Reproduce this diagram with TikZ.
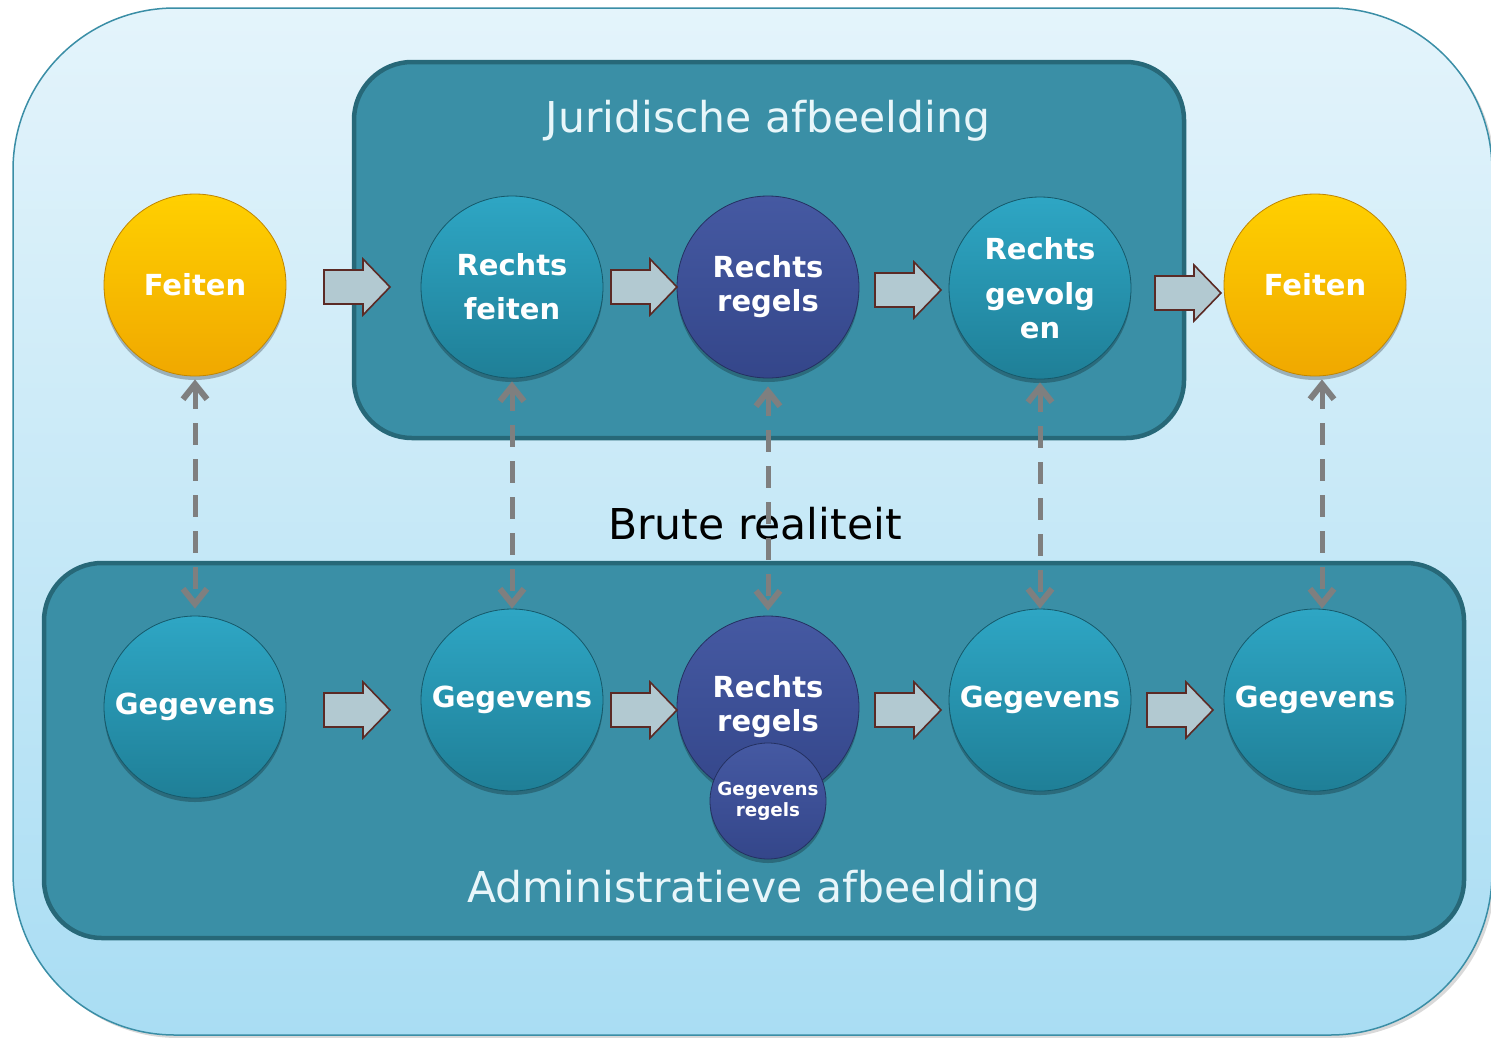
\documentclass[tikz,border=0pt]{standalone}
\usepackage{fontspec}
\setmainfont{DejaVu Sans}
\usetikzlibrary{shadows,arrows.meta,calc}
\definecolor{bgtop}{HTML}{E4F4FB}
\definecolor{bgbot}{HTML}{A9DDF3}
\definecolor{bgline}{HTML}{3A8EA6}
\definecolor{boxfill}{HTML}{3A8FA6}
\definecolor{boxline}{HTML}{276878}
\definecolor{tealtop}{HTML}{2EA6C4}
\definecolor{tealbot}{HTML}{1F7F97}
\definecolor{navytop}{HTML}{4559A2}
\definecolor{navybot}{HTML}{34468A}
\definecolor{yeltop}{HTML}{FFD000}
\definecolor{yelbot}{HTML}{F0A800}
\definecolor{arrfill}{HTML}{B2C9D1}
\definecolor{arrline}{HTML}{5B2A25}
\definecolor{dashgray}{HTML}{7F7F7F}
\definecolor{titletxt}{HTML}{E8F6FA}
\begin{document}
\begin{tikzpicture}[x=1pt,y=-1pt,
  ball/.style={circle, minimum size=182pt, inner sep=0pt, text=white,
    font=\bfseries\fontsize{29}{34}\selectfont, align=center,
    drop shadow={shadow xshift=0pt, shadow yshift=-4pt, opacity=0.25, fill=black}},
  tealball/.style={ball, top color=tealtop, bottom color=tealbot, draw=tealbot!70!black, line width=0.8pt},
  navyball/.style={ball, top color=navytop, bottom color=navybot, draw=navybot!70!black, line width=0.8pt},
  yelball/.style={ball, top color=yeltop, bottom color=yelbot, draw=yelbot!80!black, line width=0.8pt},
  areabox/.style={fill=boxfill, draw=boxline, line width=4.5pt, rounded corners=58pt},
  titletext/.style={font=\fontsize{42.5}{50}\selectfont},
  dasharr/.style={draw=dashgray, line width=5pt, dash pattern=on 22pt off 14pt,
    {Straight Barb[length=15pt,width=24pt,line width=6pt]}-{Straight Barb[length=15pt,width=24pt,line width=6pt]}},
  blockarr/.pic={\draw[fill=arrfill, draw=arrline, line width=1.6pt]
    (-33,-17) -- (6,-17) -- (6,-28) -- (33,0) -- (6,28) -- (6,17) -- (-33,17) -- cycle;}
]
\useasboundingbox (0,0) rectangle (1491,1037);
% background
\path[top color=bgtop, bottom color=bgbot, draw=bgline, line width=1.5pt, rounded corners=162pt,
  drop shadow={shadow xshift=3pt, shadow yshift=-3pt, opacity=0.3}]
  (13,8) rectangle (1492,1035);
% areas
\path[areabox] (354,62) rectangle (1184,438);
\path[areabox] (44,563) rectangle (1464,938);
% texts
\node[titletext, text=titletxt] (tj) at (768,121) {Juridische afbeelding};
\node[titletext, text=black] (tb) at (755,524) {Brute realiteit};
\node[titletext, text=titletxt] (ta) at (754,891) {Administratieve afbeelding};
% top circles
\node[yelball] (f1) at (195,285) {Feiten};
\node[tealball] (rf) at (512,287) {Rechts\\[10pt]feiten};
\node[navyball] (rr) at (768,287) {Rechts\\regels};
\node[tealball] (rg) at (1040,288) {Rechts\\[11pt]gevolg\\en};
\node[yelball] (f2) at (1315,285) {Feiten};
% bottom circles
\node[tealball] (g1) at (195,707) {Gegevens};
\node[tealball] (g2) at (512,700) {Gegevens};
\node[navyball] (br) at (768,707) {Rechts\\regels};
\node[navyball, minimum size=116pt, font=\bfseries\fontsize{18.3}{21}\selectfont] (gr) at (768,801) {Gegevens\\regels};
\node[tealball] (g3) at (1040,700) {Gegevens};
\node[tealball] (g4) at (1315,700) {Gegevens};
% block arrows
\pic at (357,287) {blockarr};
\pic at (644,287) {blockarr};
\pic at (908,290) {blockarr};
\pic at (1188,293) {blockarr};
\pic at (357,710) {blockarr};
\pic at (644,710) {blockarr};
\pic at (908,710) {blockarr};
\pic at (1180,710) {blockarr};
% dashed arrows
\draw[dasharr, shorten <=3pt, shorten >=7pt] (f1.south) -- (g1.north);
\draw[dasharr, shorten <=3pt, shorten >=0pt] (rf.south) -- (g2.north);
\draw[dasharr, shorten <=3pt, shorten >=7pt] ([yshift=-5pt]rr.south) -- ([yshift=-2pt]br.north);
\draw[dasharr, shorten <=3pt, shorten >=0pt] (rg.south) -- (g3.north);
\draw[dasharr, shorten <=3pt, shorten >=0pt] ([xshift=7pt]f2.south) -- ([xshift=7pt]g4.north);
\end{tikzpicture}
\end{document}
